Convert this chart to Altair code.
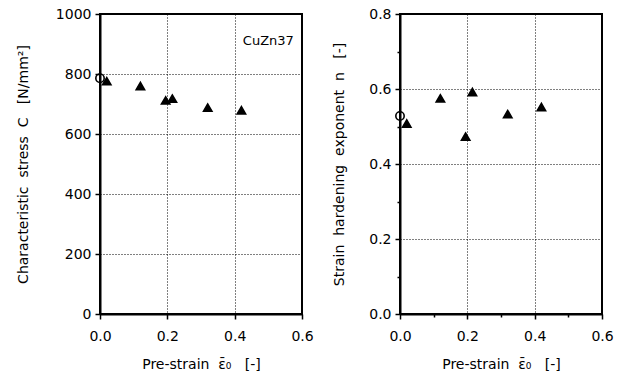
import altair as alt
import pandas as pd

# Data
strain = [0.0, 0.02, 0.12, 0.195, 0.215, 0.32, 0.42]
stress_c = [786, 776, 760, 712, 718, 688, 679]
exponent_n = [0.528, 0.508, 0.575, 0.473, 0.592, 0.533, 0.552]
marker = ["circle", "triangle", "triangle", "triangle", "triangle", "triangle", "triangle"]

df = pd.DataFrame({"strain": strain, "C": stress_c, "n": exponent_n, "marker": marker})
label_df = pd.DataFrame({"x": [0.5], "y": [910], "t": ["CuZn37"]})

FONT = "DejaVu Sans"
NB = "\u00a0"
x_title = f"Pre-strain{NB}{NB}\u03b5\u0304\u2080{NB}{NB}{NB}[-]"
y1_title = f"Characteristic{NB}{NB}stress{NB}{NB}C{NB}{NB}{NB}[N/mm\u00b2]"
y2_title = f"Strain{NB}{NB}hardening{NB}{NB}exponent{NB}{NB}n{NB}{NB}{NB}[-]"

x_vals = [0.0, 0.1, 0.2, 0.3, 0.4, 0.5, 0.6]
major_x = "abs(datum.value*10 % 2) < 0.01 || abs(datum.value*10 % 2) > 1.99"

def x_axis():
    return alt.Axis(
        values=x_vals,
        labelExpr=f"({major_x}) ? format(datum.value, '.1f') : ''",
        labelOverlap=False,
        labelFlush=False,
        grid=True,
        gridDash=[1, 2],
        gridColor="black",
        gridOpacity={"condition": {"test": major_x, "value": 1}, "value": 0},
        tickSize={"condition": {"test": major_x, "value": 5}, "value": 3},
        title=x_title,
        titlePadding=14,
        labelPadding=10,
    )

def shape_enc():
    return alt.Shape(
        "marker:N",
        scale=alt.Scale(domain=["circle", "triangle"], range=["circle", "triangle-up"]),
        legend=None,
    )

def fill_enc():
    return alt.Fill(
        "marker:N",
        scale=alt.Scale(domain=["circle", "triangle"], range=["transparent", "black"]),
        legend=None,
    )

y1_vals = list(range(0, 1001, 100))
major_y1 = "datum.value % 200 == 0"
left_pts = alt.Chart(df).mark_point(size=70, stroke="black", strokeWidth=1.6, opacity=1).encode(
    x=alt.X("strain:Q", scale=alt.Scale(domain=[0, 0.6], nice=False), axis=x_axis()),
    y=alt.Y(
        "C:Q",
        scale=alt.Scale(domain=[0, 1000], nice=False),
        axis=alt.Axis(
            values=y1_vals,
            labelExpr=f"({major_y1}) ? format(datum.value, 'd') : ''",
            labelOverlap=False,
            labelFlush=False,
            grid=True,
            gridDash=[1, 2],
            gridColor="black",
            gridOpacity={"condition": {"test": major_y1, "value": 1}, "value": 0},
            tickSize={"condition": {"test": major_y1, "value": 5}, "value": 3},
            title=y1_title,
            titlePadding=25,
            labelPadding=4,
        ),
    ),
    shape=shape_enc(),
    fill=fill_enc(),
)
left_txt = alt.Chart(label_df).mark_text(font=FONT, fontSize=13, color="black").encode(
    x="x:Q", y="y:Q", text="t:N"
)
left = alt.layer(left_pts, left_txt).properties(width=202, height=300)

y2_vals = [round(v * 0.1, 1) for v in range(0, 9)]
major_y2 = "abs(datum.value*10 % 2) < 0.01 || abs(datum.value*10 % 2) > 1.99"
right = alt.Chart(df).mark_point(size=70, stroke="black", strokeWidth=1.6, opacity=1).encode(
    x=alt.X("strain:Q", scale=alt.Scale(domain=[0, 0.6], nice=False), axis=x_axis()),
    y=alt.Y(
        "n:Q",
        scale=alt.Scale(domain=[0, 0.8], nice=False),
        axis=alt.Axis(
            values=y2_vals,
            labelExpr=f"({major_y2}) ? format(datum.value, '.1f') : ''",
            labelOverlap=False,
            labelFlush=False,
            grid=True,
            gridDash=[1, 2],
            gridColor="black",
            gridOpacity={"condition": {"test": major_y2, "value": 1}, "value": 0},
            tickSize={"condition": {"test": major_y2, "value": 5}, "value": 3},
            title=y2_title,
            titlePadding=22,
            labelPadding=4,
        ),
    ),
    shape=shape_enc(),
    fill=fill_enc(),
).properties(width=202, height=300)

chart = alt.hconcat(left, right, spacing=16).properties(
    padding={"left": 15, "top": 6, "right": 5, "bottom": 5},
    background="white",
).configure_view(
    stroke="black", strokeWidth=2
).configure_axis(
    labelFont=FONT,
    titleFont=FONT,
    labelFontSize=14,
    titleFontSize=14,
    titleFontWeight="normal",
    labelColor="black",
    titleColor="black",
    domainColor="black",
    domainWidth=2,
    tickColor="black",
    tickWidth=1.5,
    gridWidth=1,
)

chart.save("out.html", embed_options={"renderer": "svg", "actions": False})
